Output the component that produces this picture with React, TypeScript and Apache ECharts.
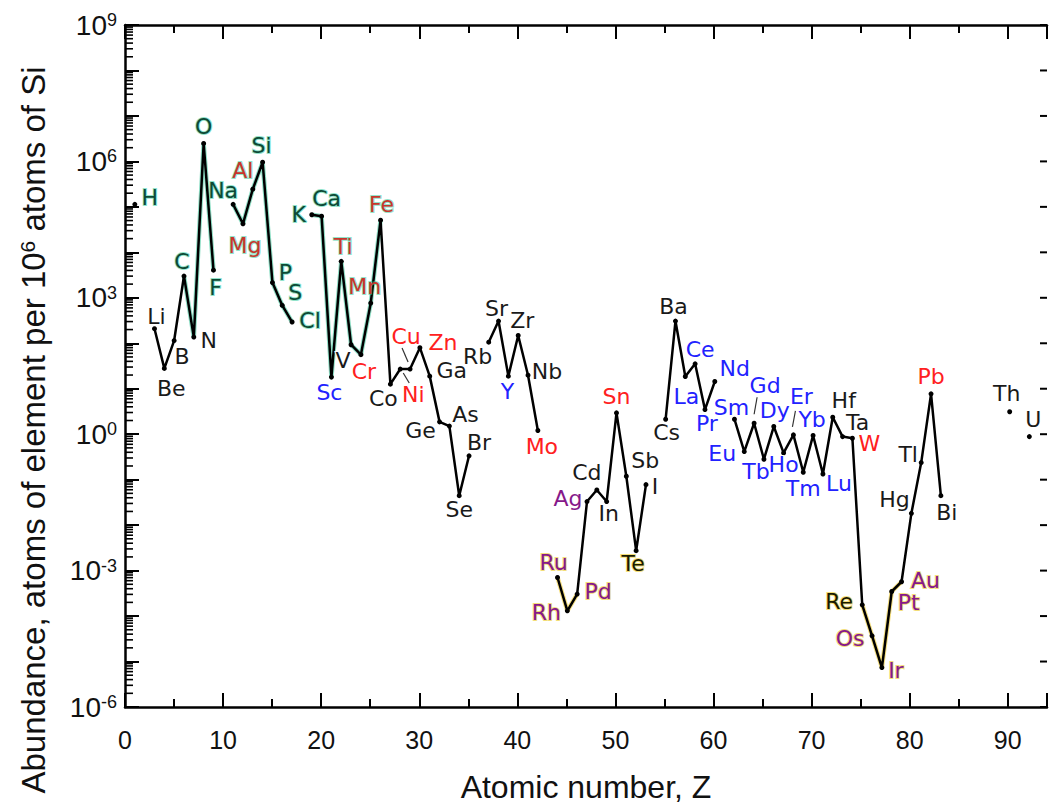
import React, { useEffect, useRef } from "react";
import * as echarts from "echarts";

// ---------- DATA ----------
const ELEMENTS = [
  "H","He","Li","Be","B","C","N","O","F","Ne",
  "Na","Mg","Al","Si","P","S","Cl","Ar","K","Ca",
  "Sc","Ti","V","Cr","Mn","Fe","Co","Ni","Cu","Zn",
  "Ga","Ge","As","Se","Br","Kr","Rb","Sr","Y","Zr",
  "Nb","Mo","Tc","Ru","Rh","Pd","Ag","Cd","In","Sn",
  "Sb","Te","I","Xe","Cs","Ba","La","Ce","Pr","Nd",
  "Pm","Sm","Eu","Gd","Tb","Dy","Ho","Er","Tm","Yb",
  "Lu","Hf","Ta","W","Re","Os","Ir","Pt","Au","Hg",
  "Tl","Pb","Bi","Po","At","Rn","Fr","Ra","Ac","Th",
  "Pa","U",
];

// atoms per 10^6 atoms of Si (null = not plotted)
const ABUNDANCE: (number | null)[] = [
  1.2e5, null, 229, 31, 126, 3240, 150, 2.57e6, 4360, null,
  1.2e5, 4.5e4, 2.57e5, 1e6, 2330, 740, 320, null, 7.1e4, 6.6e4,
  20, 6800, 102, 62, 830, 5.4e4, 14, 30, 30, 88,
  21, 2.1, 1.7, 0.051, 0.38, null, 116, 336, 21, 163,
  22, 1.36, null, 8.3e-4, 1.55e-4, 3.6e-4, 0.038, 0.068, 0.038, 3.3,
  0.136, 3.2e-3, 0.089, null, 2.4, 336, 20.6, 39, 3.9, 16,
  null, 2.4, 0.47, 1.96, 0.32, 1.66, 0.44, 1.09, 0.166, 1.06,
  0.152, 2.65, 1.0, 0.92, 2.1e-4, 4.4e-5, 8.9e-6, 4.1e-4, 6.7e-4, 0.021,
  0.27, 8.6, 0.051, null, null, null, null, null, null, 3.5,
  null, 1.0,
];

const ROCK_FORMING = ["H","C","O","F","Na","Si","P","S","Cl","K","Ca"];
const MAJOR_METALS = ["Mg","Al","Ti","Mn","Fe"];
const INDUSTRIAL = ["Cr","Ni","Cu","Zn","Mo","Sn","W","Pb"];
const RARE_EARTHS = ["Sc","Y","La","Ce","Pr","Nd","Sm","Eu","Gd","Tb","Dy","Ho","Er","Tm","Yb","Lu"];
const PRECIOUS = ["Ru","Rh","Pd","Ag","Os","Ir","Pt","Au"];
const RAREST = ["Ru","Rh","Pd","Te","Re","Os","Ir","Pt","Au"];

const GREEN_GLOW_RANGES = [[6, 9], [11, 17], [19, 26]];
const YELLOW_GLOW_RANGES = [[44, 46], [75, 79]];

const X_TICKS = [0, 10, 20, 30, 40, 50, 60, 70, 80, 90];
const Y_LABEL_EXPONENTS = [-6, -3, 0, 3, 6, 9];
// tick decades and minor (log) multipliers
const Y_DECADES = [-6, -5, -4, -3, -2, -1, 0, 1, 2, 3, 4, 5, 6, 7, 8, 9];
const Y_MINOR_MULTIPLIERS = [2, 3, 4, 5, 6, 7, 8, 9];

// ---------- LAYOUT ----------
// label centre offset from its point, px
const LABEL_OFFSET: Record<string, [number, number]> = {
  H: [15, -7], Li: [2, -12], Be: [7, 20], B: [8, 16], C: [-2, -15], N: [15, 3], O: [0, -17], F: [2, 17],
  Na: [-10, -14], Mg: [2, 22], Al: [-10, -19], Si: [-1, -17], P: [13, -10], S: [13, -13], Cl: [18, -2],
  K: [-13, 0], Ca: [5, -18], Sc: [-2, 15], Ti: [2, -15], V: [-8, 16], Cr: [3, 17], Mn: [-6, -17], Fe: [1, -16],
  Co: [-7, 14], Ni: [13, 25], Cu: [-4, -33], Zn: [23, -5], Ga: [22, -6], Ge: [-19, 9], As: [16, -12], Se: [0, 14], Br: [10, -13],
  Rb: [-11, 14], Sr: [-2, -13], Y: [-1, 15], Zr: [4, -15], Nb: [19, -4], Mo: [4, 16],
  Ru: [-4, -15], Rh: [-21, 2], Pd: [21, -3], Ag: [-19, -3], Cd: [-10, -17], In: [2, 12], Sn: [0, -16], Sb: [19, -16], Te: [-3, 13], I: [9, 2],
  Cs: [1, 13], Ba: [-2, -15], La: [1, 20], Ce: [5, -14], Pr: [2, 14], Nd: [20, -13], Sm: [-3, -12], Eu: [-22, 2], Gd: [11, -38],
  Tb: [-8, 12], Dy: [1, -16], Ho: [0, 12], Er: [8, -38], Tm: [0, 16], Yb: [-1, -16], Lu: [16, 9], Hf: [11, -17], Ta: [15, -14], W: [17, 5],
  Re: [-23, -3], Os: [-22, 3], Ir: [14, 3], Pt: [17, 11], Au: [24, -1], Hg: [-17, -14], Tl: [-13, -8], Pb: [0, -17], Bi: [6, 17],
  Th: [-3, -18], U: [4, -17],
};

// leader lines: symbol, x1, y1, x2, y2 (px offsets from point)
const LEADERS: [string, number, number, number, number][] = [
  ["Ni", 3, 4, 9, 14],
  ["Cu", -8, -21, -2, -7],
  ["Gd", 0, -9, 3, -26],
  ["Er", -1, -8, 2, -24],
];

const NARROW = "'Liberation Sans Narrow', 'Liberation Sans', Arial, sans-serif";
const REGULAR = "'Liberation Sans', Arial, sans-serif";
const LABEL_FONT = "'DejaVu Sans', Verdana, sans-serif";

const GREEN_TEXT = "#0d4a36";
const GREEN_HALO = "rgba(40,200,150,0.5)";
const YELLOW_HALO = "rgba(235,200,30,0.6)";

const GRID = { left: 125, right: 1, top: 25, bottom: 97, containLabel: false };

function labelStyle(sym: string) {
  if (ROCK_FORMING.includes(sym)) return { color: GREEN_TEXT, border: GREEN_HALO };
  if (MAJOR_METALS.includes(sym)) return { color: "#c8352b", border: GREEN_HALO };
  if (INDUSTRIAL.includes(sym)) return { color: "#ff2020", border: "#ffffff" };
  if (RARE_EARTHS.includes(sym)) return { color: "#2222ff", border: "#ffffff" };
  if (PRECIOUS.includes(sym)) return { color: "#86198a", border: RAREST.includes(sym) ? YELLOW_HALO : "#ffffff" };
  if (RAREST.includes(sym)) return { color: "#1a1a00", border: YELLOW_HALO };
  return { color: "#1a1a1a", border: "#ffffff" };
}

function inRanges(z: number, ranges: number[][]) {
  return ranges.some(([a, b]) => z >= a && z <= b);
}

export default function App() {
  const axesRef = useRef<HTMLDivElement>(null);
  const plotRef = useRef<HTMLDivElement>(null);

  useEffect(() => {
    // ---------- frame, axes and ticks ----------
    const axesChart = echarts.init(axesRef.current!, null, { renderer: "svg" });

    const tickData: number[][] = [];
    Y_DECADES.forEach((e) => {
      if (e < 9) Y_MINOR_MULTIPLIERS.forEach((m) => tickData.push([1, m * Math.pow(10, e)]));
      tickData.push([2, Math.pow(10, e)]);
    });

    const axisLineStyle = { color: "#000", width: 2.5 };
    const tickStyle = { color: "#000", width: 2 };
    const xBase = { type: "value", min: 0, max: 94, splitLine: { show: false } };

    axesChart.setOption({
      animation: false,
      backgroundColor: "#ffffff",
      grid: GRID,
      xAxis: [
        {
          ...xBase,
          position: "bottom",
          interval: 10,
          axisLine: { show: true, onZero: false, lineStyle: axisLineStyle },
          axisTick: { show: true, inside: true, length: 14, lineStyle: tickStyle },
          axisLabel: {
            margin: 20,
            fontSize: 25,
            color: "#111",
            fontFamily: NARROW,
            formatter: (v: number) => (X_TICKS.includes(v) ? String(v) : ""),
          },
          name: "Atomic number, Z",
          nameLocation: "middle",
          nameGap: 64,
          nameTextStyle: { fontSize: 32, fontFamily: NARROW, color: "#111" },
        },
        {
          ...xBase,
          position: "bottom",
          interval: 5,
          axisLine: { show: false, onZero: false },
          axisTick: { show: true, inside: true, length: 8, lineStyle: tickStyle },
          axisLabel: { show: false },
        },
        {
          ...xBase,
          position: "top",
          interval: 10,
          axisLine: { show: true, onZero: false, lineStyle: axisLineStyle },
          axisTick: { show: true, inside: true, length: 14, lineStyle: tickStyle },
          axisLabel: { show: false },
        },
        {
          ...xBase,
          position: "top",
          interval: 5,
          axisLine: { show: false, onZero: false },
          axisTick: { show: true, inside: true, length: 8, lineStyle: tickStyle },
          axisLabel: { show: false },
        },
      ],
      yAxis: {
        type: "log",
        logBase: 10,
        min: 1e-6,
        max: 1e9,
        interval: 1,
        splitLine: { show: false },
        axisLine: { show: true, onZero: false, lineStyle: axisLineStyle },
        axisTick: { show: true, inside: true, length: 14, lineStyle: tickStyle },
        axisLabel: {
          margin: 8,
          showMinLabel: true,
          showMaxLabel: true,
          hideOverlap: false,
          formatter: (v: number) => {
            const e = Math.round(Math.log10(v));
            return Y_LABEL_EXPONENTS.includes(e) ? `{b|10}{s|${e}}` : "";
          },
          rich: {
            b: { fontSize: 28, fontFamily: REGULAR, color: "#111" },
            s: { fontSize: 18, fontFamily: REGULAR, color: "#111", verticalAlign: "top" },
          },
        },
      },
      series: [
        {
          type: "custom",
          name: "ticks",
          data: tickData,
          silent: true,
          clip: false,
          z: 5,
          renderItem: (params: any, api: any) => {
            const p = api.coord([1, api.value(1)]);
            const cs = params.coordSys;
            const right = api.value(0) === 2;
            const x1 = right ? cs.x + cs.width : cs.x;
            const x2 = right ? x1 - 7 : x1 + 8;
            return {
              type: "line",
              shape: { x1, y1: p[1], x2, y2: p[1] },
              style: { stroke: "#000", lineWidth: right ? 2 : 1.6 },
            };
          },
        },
      ],
    });

    // ---------- data, labels and y title ----------
    const plotChart = echarts.init(plotRef.current!, null, { renderer: "svg" });

    const mainData = ELEMENTS.map((sym, i) => {
      const z = i + 1;
      const v = ABUNDANCE[i];
      if (v == null) return { value: [z, "-"] };
      const st = labelStyle(sym);
      return {
        value: [z, v],
        label: {
          show: true,
          formatter: sym,
          offset: LABEL_OFFSET[sym] || [0, -15],
          color: st.color,
          textBorderColor: st.border,
          textBorderWidth: 2,
        },
      };
    });

    const glowData = (ranges: number[][]) =>
      ELEMENTS.map((_, i) => {
        const z = i + 1;
        const v = ABUNDANCE[i];
        return v != null && inRanges(z, ranges) ? [z, v] : [z, "-"];
      });

    const leaderData = LEADERS.map((l) => {
      const z = ELEMENTS.indexOf(l[0]) + 1;
      return [z, ABUNDANCE[z - 1]];
    });

    const hidden = {
      axisLine: { show: false },
      axisTick: { show: false },
      axisLabel: { show: false },
      splitLine: { show: false },
    };

    plotChart.setOption({
      animation: false,
      backgroundColor: "transparent",
      grid: GRID,
      xAxis: { type: "value", min: 0, max: 94, ...hidden },
      yAxis: { type: "log", logBase: 10, min: 1e-6, max: 1e9, ...hidden },
      graphic: [
        {
          type: "text",
          x: 33,
          y: 430,
          rotation: Math.PI / 2,
          style: {
            text: "{t|Abundance, atoms of element per 10}{s|6}{t| atoms of Si}",
            align: "center",
            verticalAlign: "middle",
            rich: {
              t: { fontSize: 33, fontFamily: NARROW, fill: "#111", color: "#111" },
              s: { fontSize: 21, fontFamily: NARROW, fill: "#111", color: "#111", verticalAlign: "top" },
            },
          },
        },
      ],
      series: [
        {
          type: "line",
          name: "glow-green",
          data: glowData(GREEN_GLOW_RANGES),
          symbol: "none",
          connectNulls: false,
          lineStyle: { color: "rgba(30,190,140,0.5)", width: 4.5 },
          silent: true,
          z: 1,
        },
        {
          type: "line",
          name: "glow-yellow",
          data: glowData(YELLOW_GLOW_RANGES),
          symbol: "none",
          connectNulls: false,
          lineStyle: { color: "rgba(235,195,20,0.55)", width: 4.5 },
          silent: true,
          z: 1,
        },
        {
          type: "line",
          name: "abundance",
          data: mainData,
          connectNulls: false,
          symbol: "circle",
          symbolSize: 5,
          showSymbol: true,
          showAllSymbol: true,
          itemStyle: { color: "#000" },
          lineStyle: { color: "#000", width: 2.5 },
          label: {
            show: true,
            position: "inside",
            fontSize: 22,
            fontFamily: LABEL_FONT,
          },
          emphasis: { disabled: true },
          z: 3,
        },
        {
          type: "custom",
          name: "leaders",
          data: leaderData,
          silent: true,
          z: 4,
          renderItem: (params: any, api: any) => {
            const p = api.coord([api.value(0), api.value(1)]);
            const l = LEADERS[params.dataIndex];
            return {
              type: "line",
              shape: { x1: p[0] + l[1], y1: p[1] + l[2], x2: p[0] + l[3], y2: p[1] + l[4] },
              style: { stroke: "#333", lineWidth: 1.2 },
            };
          },
        },
      ],
    });

    return () => {
      plotChart.dispose();
      axesChart.dispose();
    };
  }, []);

  return (
    <div style={{ position: "absolute", left: 0, top: 0, width: 1050, height: 808, background: "#fff" }}>
      <div ref={axesRef} style={{ position: "absolute", left: 0, top: 0, width: 1050, height: 808 }} />
      <div ref={plotRef} style={{ position: "absolute", left: 0, top: 0, width: 1050, height: 808 }} />
    </div>
  );
}
